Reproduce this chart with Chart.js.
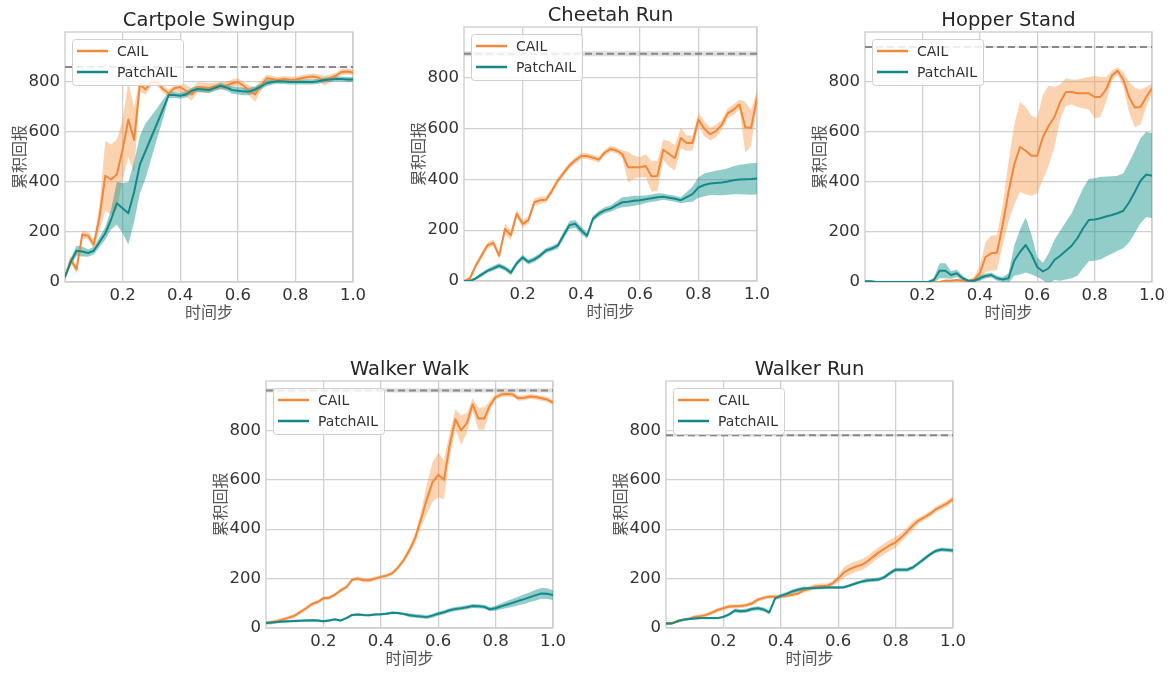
<!DOCTYPE html>
<html>
<head>
<meta charset="utf-8">
<script src="https://cdn.jsdelivr.net/npm/chart.js@4.4.0/dist/chart.umd.min.js"></script>
<style>
  body { margin: 0; background: #fff; width: 1172px; height: 674px; position: relative; overflow: hidden; }
  canvas { position: absolute; }
</style>
</head>
<body>
<script>
// x positions (fraction of training steps)
const X = [0, 0.02, 0.04, 0.06, 0.08, 0.1, 0.12, 0.14, 0.16, 0.18, 0.2, 0.22, 0.24, 0.26, 0.28, 0.3, 0.32, 0.34, 0.36, 0.38,
  0.4, 0.42, 0.44, 0.46, 0.48, 0.5, 0.52, 0.54, 0.56, 0.58, 0.6, 0.62, 0.64, 0.66, 0.68, 0.7, 0.72, 0.74, 0.76, 0.78,
  0.8, 0.82, 0.84, 0.86, 0.88, 0.9, 0.92, 0.94, 0.96, 0.98, 1.0];
const X_TICKS = [0.2, 0.4, 0.6, 0.8, 1.0];
const Y_TICKS = [0, 200, 400, 600, 800];
const SERIES = ['CAIL', 'PatchAIL'];
const TITLES = ['Cartpole Swingup', 'Cheetah Run', 'Hopper Stand', 'Walker Walk', 'Walker Run'];
const EXPERT = [860, 895, 940, 962, 780];
const EXPERT_SD = [2, 10, 3, 9, 5];

// Cartpole Swingup
const cartCail = [20, 90, 50, 190, 185, 150, 260, 425, 410, 430, 530, 650, 568, 790, 770, 800, 800, 772, 755, 775,
  780, 765, 750, 778, 778, 775, 782, 784, 785, 795, 800, 785, 765, 750, 785, 815, 812, 808, 812, 810,
  809, 815, 819, 822, 818, 805, 815, 825, 840, 842, 838];
const cartCailSd = [10, 15, 15, 15, 15, 20, 50, 140, 140, 140, 120, 150, 130, 30, 20, 15, 15, 15, 15, 15,
  20, 25, 25, 20, 20, 20, 15, 15, 15, 15, 15, 15, 20, 30, 20, 15, 12, 12, 12, 12,
  12, 12, 12, 12, 12, 20, 15, 12, 12, 12, 12];
const cartPatch = [20, 80, 125, 122, 116, 125, 160, 195, 250, 315, 295, 275, 360, 470, 525, 580, 635, 690, 748, 748,
  745, 750, 765, 772, 770, 768, 776, 785, 778, 768, 765, 762, 762, 770, 782, 795, 800, 803, 802, 800,
  800, 800, 800, 800, 803, 808, 810, 812, 812, 810, 810];
const cartPatchSd = [10, 15, 20, 20, 15, 15, 20, 25, 40, 85, 100, 125, 120, 115, 110, 85, 60, 40, 12, 12,
  12, 12, 12, 12, 12, 12, 12, 12, 12, 15, 15, 15, 15, 12, 12, 12, 10, 10, 10, 10,
  10, 10, 10, 10, 10, 10, 10, 10, 10, 10, 10];

// Cheetah Run
const cheeCail = [0, 10, 60, 100, 140, 150, 100, 205, 180, 265, 225, 240, 310, 318, 320, 355, 395, 425, 455, 475,
  492, 492, 485, 478, 505, 520, 514, 500, 448, 448, 448, 453, 412, 413, 517, 500, 484, 563, 543, 543,
  636, 600, 578, 590, 615, 660, 675, 695, 605, 603, 722];
const cheeCailSd = [3, 8, 10, 12, 12, 12, 15, 20, 20, 15, 15, 15, 15, 15, 12, 12, 12, 12, 12, 12,
  12, 12, 12, 12, 12, 12, 12, 15, 60, 45, 40, 45, 60, 60, 40, 50, 50, 40, 30, 30,
  25, 30, 25, 25, 20, 20, 20, 20, 100, 70, 30];
const cheePatch = [0, 0, 10, 25, 40, 50, 60, 50, 33, 70, 93, 75, 85, 100, 120, 128, 139, 180, 220, 225,
  200, 178, 245, 265, 278, 285, 298, 310, 312, 316, 318, 322, 326, 330, 332, 328, 324, 318, 330, 342,
  368, 378, 384, 386, 388, 392, 397, 400, 401, 402, 404];
const cheePatchSd = [2, 3, 5, 8, 8, 10, 10, 10, 10, 10, 10, 10, 10, 10, 10, 10, 12, 15, 15, 15,
  15, 12, 12, 12, 12, 12, 15, 20, 20, 20, 18, 15, 15, 15, 12, 12, 12, 12, 20, 30,
  40, 45, 45, 48, 50, 52, 55, 58, 60, 62, 62];

// Hopper Stand
const hopCail = [1, 1, 0, 0, 0, 0, 0, 0, 0, 0, 0, 0, 0, 0, 5, 5, 8, 5, 3, 10,
  35, 100, 115, 118, 230, 360, 470, 540, 525, 505, 505, 580, 625, 660, 720, 760, 760, 755, 755, 755,
  740, 740, 770, 825, 845, 810, 740, 698, 700, 740, 775];
const hopCailSd = [2, 2, 2, 2, 2, 2, 2, 2, 2, 2, 2, 2, 2, 2, 5, 5, 5, 5, 5, 10,
  30, 60, 70, 70, 80, 120, 160, 180, 175, 160, 150, 170, 160, 120, 70, 55, 50, 55, 60, 65,
  85, 80, 50, 20, 15, 30, 60, 80, 70, 40, 20];
const hopPatch = [3, 3, 0, 0, 0, 0, 0, 0, 0, 0, 0, 0, 8, 45, 45, 28, 35, 15, 5, 5,
  15, 24, 28, 15, 10, 15, 85, 120, 148, 110, 60, 42, 55, 88, 105, 125, 145, 175, 215, 248,
  250, 255, 262, 268, 275, 285, 318, 360, 405, 430, 425];
const hopPatchSd = [3, 3, 3, 3, 3, 3, 3, 3, 3, 3, 3, 3, 10, 30, 30, 15, 15, 10, 5, 5,
  10, 10, 10, 10, 10, 20, 60, 90, 110, 80, 40, 35, 60, 80, 100, 115, 130, 150, 160, 165,
  165, 165, 160, 155, 150, 150, 160, 165, 170, 170, 170];

// Walker Walk
const wwCail = [20, 22, 28, 35, 42, 50, 65, 80, 97, 105, 120, 122, 135, 152, 165, 195, 200, 193, 193, 200,
  207, 212, 222, 245, 275, 315, 365, 440, 520, 590, 620, 600, 740, 845, 800, 830, 905, 848, 848, 900,
  935, 945, 947, 945, 930, 932, 937, 935, 930, 925, 913];
const wwCailSd = [8, 8, 8, 8, 8, 8, 8, 8, 8, 8, 8, 8, 8, 8, 8, 8, 8, 8, 8, 8,
  8, 8, 8, 8, 10, 15, 20, 30, 60, 80, 90, 80, 50, 40, 60, 40, 25, 45, 45, 20,
  12, 10, 10, 10, 10, 10, 10, 10, 10, 10, 10];
const wwPatch = [20, 22, 24, 26, 27, 28, 29, 30, 31, 30, 27, 30, 35, 30, 40, 53, 55, 53, 52, 55,
  56, 58, 62, 61, 57, 52, 49, 47, 44, 50, 58, 64, 72, 77, 80, 84, 89, 88, 86, 76,
  80, 88, 95, 102, 110, 117, 125, 133, 140, 139, 133];
const wwPatchSd = [5, 5, 5, 5, 5, 5, 5, 5, 5, 5, 5, 5, 5, 5, 5, 5, 5, 5, 5, 5,
  5, 5, 5, 5, 5, 8, 8, 8, 8, 8, 8, 8, 8, 8, 8, 8, 8, 8, 8, 8,
  10, 12, 14, 16, 18, 20, 20, 22, 22, 22, 20];

// Walker Run
const wrCail = [20, 20, 25, 33, 38, 45, 48, 53, 62, 73, 80, 87, 88, 89, 92, 100, 115, 122, 127, 127,
  128, 130, 135, 140, 152, 160, 168, 170, 170, 180, 200, 225, 238, 248, 255, 268, 287, 305, 320, 335,
  347, 367, 390, 415, 435, 448, 462, 480, 492, 505, 522];
const wrCailSd = [5, 5, 5, 5, 5, 8, 8, 8, 8, 8, 8, 8, 8, 8, 8, 8, 8, 8, 8, 8,
  8, 8, 8, 8, 8, 10, 10, 10, 10, 10, 15, 22, 22, 22, 22, 22, 22, 22, 22, 22,
  22, 18, 18, 18, 12, 12, 12, 12, 12, 12, 12];
const wrPatch = [17, 18, 28, 33, 36, 38, 40, 40, 40, 40, 45, 55, 71, 68, 70, 77, 80, 75, 63, 120,
  130, 138, 148, 155, 160, 161, 162, 163, 164, 164, 164, 165, 172, 180, 187, 192, 194, 196, 205, 222,
  236, 236, 236, 245, 262, 280, 298, 312, 318, 316, 314];
const wrPatchSd = [4, 4, 5, 5, 5, 5, 5, 5, 5, 5, 6, 6, 8, 8, 8, 8, 8, 8, 8, 8,
  8, 8, 8, 8, 8, 6, 6, 6, 6, 6, 6, 6, 6, 6, 6, 8, 8, 8, 8, 8,
  8, 8, 8, 8, 8, 8, 8, 8, 8, 8, 8];

const ORANGE = '#f0873a';
const ORANGE_BAND = 'rgba(245,150,70,0.42)';
const TEAL = '#15898a';
const TEAL_BAND = 'rgba(30,150,145,0.48)';

// plot area of each panel in page pixels
const PANELS = [
  { left: 65, top: 32, right: 353, bottom: 282, cail: cartCail, cailSd: cartCailSd, patch: cartPatch, patchSd: cartPatchSd },
  { left: 464, top: 27, right: 757, bottom: 281, cail: cheeCail, cailSd: cheeCailSd, patch: cheePatch, patchSd: cheePatchSd },
  { left: 865, top: 32, right: 1152, bottom: 282, cail: hopCail, cailSd: hopCailSd, patch: hopPatch, patchSd: hopPatchSd },
  { left: 266, top: 381, right: 553, bottom: 628, cail: wwCail, cailSd: wwCailSd, patch: wwPatch, patchSd: wwPatchSd },
  { left: 666, top: 381, right: 953, bottom: 628, cail: wrCail, cailSd: wrCailSd, patch: wrPatch, patchSd: wrPatchSd }
];

const PAD_L = 65, PAD_T = 35, PAD_R = 18, PAD_B = 42;

function pts(mean, sd, sign) {
  return X.map((x, i) => ({ x: x, y: mean[i] + sign * (sd ? sd[i] : 0) }));
}

// frame, title and legend drawn by hand, matplotlib style
const decor = {
  id: 'decor',
  beforeDatasetsDraw(chart) {
    const a = chart.chartArea, ctx = chart.ctx;
    ctx.save();
    ctx.strokeStyle = '#cccccc';
    ctx.lineWidth = 1.3;
    ctx.strokeRect(a.left, a.top, a.right - a.left, a.bottom - a.top);
    ctx.restore();
  },
  afterDraw(chart, args, opts) {
    const a = chart.chartArea, ctx = chart.ctx;
    ctx.save();
    // title
    ctx.fillStyle = '#262626';
    ctx.font = '19.5px "DejaVu Sans"';
    ctx.textAlign = 'center';
    ctx.textBaseline = 'middle';
    ctx.fillText(opts.title, (a.left + a.right) / 2, a.top - 11);

    // legend
    const bx = a.left + 7, by = a.top + 7, bw = 111, bh = 46;
    ctx.fillStyle = 'rgba(255,255,255,0.85)';
    ctx.strokeStyle = '#cfcfcf';
    ctx.lineWidth = 1;
    ctx.beginPath();
    ctx.roundRect(bx + 0.5, by + 0.5, bw, bh, 3);
    ctx.fill();
    ctx.stroke();
    const items = chart.data.datasets.filter(d => d.legend);
    ctx.font = '14px "DejaVu Sans"';
    ctx.textAlign = 'left';
    items.forEach((d, i) => {
      const y = by + 12 + i * 21;
      ctx.strokeStyle = d.borderColor;
      ctx.lineWidth = 2.5;
      ctx.beginPath();
      ctx.moveTo(bx + 5, y);
      ctx.lineTo(bx + 36, y);
      ctx.stroke();
      ctx.fillStyle = '#333';
      ctx.fillText(d.label, bx + 45, y + 1);
    });
    ctx.restore();
  }
};

PANELS.forEach((p, k) => {
  const cv = document.createElement('canvas');
  const w = p.right - p.left + PAD_L + PAD_R;
  const h = p.bottom - p.top + PAD_T + PAD_B;
  cv.width = w;
  cv.height = h;
  cv.style.left = (p.left - PAD_L) + 'px';
  cv.style.top = (p.top - PAD_T) + 'px';
  document.body.appendChild(cv);

  const e = EXPERT[k], es = EXPERT_SD[k];
  const flat = v => [{ x: X[0], y: v }, { x: X[X.length - 1], y: v }];
  const hidden = { pointRadius: 0, borderWidth: 0, fill: false };

  const datasets = [
    Object.assign({ data: flat(e - es), order: 9 }, hidden),
    { data: flat(e + es), order: 8, pointRadius: 0, borderWidth: 0, fill: 0, backgroundColor: 'rgba(160,160,160,0.35)' },
    { data: flat(e), order: 7, pointRadius: 0, borderWidth: 2, borderColor: '#888', borderDash: [7, 4], fill: false },
    Object.assign({ data: pts(p.cail, p.cailSd, -1), order: 6 }, hidden),
    { data: pts(p.cail, p.cailSd, 1), order: 6, pointRadius: 0, borderWidth: 0, fill: 3, backgroundColor: ORANGE_BAND },
    Object.assign({ data: pts(p.patch, p.patchSd, -1), order: 5 }, hidden),
    { data: pts(p.patch, p.patchSd, 1), order: 5, pointRadius: 0, borderWidth: 0, fill: 5, backgroundColor: TEAL_BAND },
    { label: SERIES[0], legend: true, data: pts(p.cail, null, 0), order: 2, pointRadius: 0, borderWidth: 2, borderColor: ORANGE, fill: false },
    { label: SERIES[1], legend: true, data: pts(p.patch, null, 0), order: 1, pointRadius: 0, borderWidth: 2, borderColor: TEAL, fill: false }
  ];

  new Chart(cv, {
    type: 'line',
    data: { datasets: datasets },
    options: {
      responsive: false,
      animation: false,
      layout: { padding: { top: PAD_T, right: PAD_R, bottom: 0, left: 0 } },
      elements: { line: { tension: 0, borderJoinStyle: 'round' } },
      plugins: {
        legend: { display: false },
        tooltip: { enabled: false },
        decor: { title: TITLES[k] }
      },
      scales: {
        x: {
          type: 'linear',
          min: 0,
          max: 1,
          afterBuildTicks: s => { s.ticks = X_TICKS.map(v => ({ value: v })); },
          afterFit: s => { s.height = PAD_B; },
          grid: { color: '#d0d0d0', lineWidth: 1.3, drawTicks: false },
          border: { display: false },
          ticks: {
            padding: 4,
            color: '#333',
            font: { family: 'DejaVu Sans', size: 16.5 },
            callback: v => Number(v).toFixed(1)
          },
          title: {
            display: true,
            text: '时间步',
            color: '#555',
            padding: { top: 0, bottom: 2 },
            font: { family: 'Noto Sans CJK SC', size: 16 }
          }
        },
        y: {
          min: 0,
          max: 1000,
          afterBuildTicks: s => { s.ticks = Y_TICKS.map(v => ({ value: v })); },
          afterFit: s => { s.width = PAD_L; },
          grid: { color: '#d0d0d0', lineWidth: 1.3, drawTicks: false },
          border: { display: false },
          ticks: {
            padding: 5,
            color: '#333',
            font: { family: 'DejaVu Sans', size: 16.5 },
            callback: v => String(v)
          },
          title: {
            display: true,
            text: '累积回报',
            color: '#555',
            padding: { top: 9, bottom: 0 },
            font: { family: 'Noto Sans CJK SC', size: 16 }
          }
        }
      }
    },
    plugins: [decor]
  });
});
</script>
</body>
</html>
